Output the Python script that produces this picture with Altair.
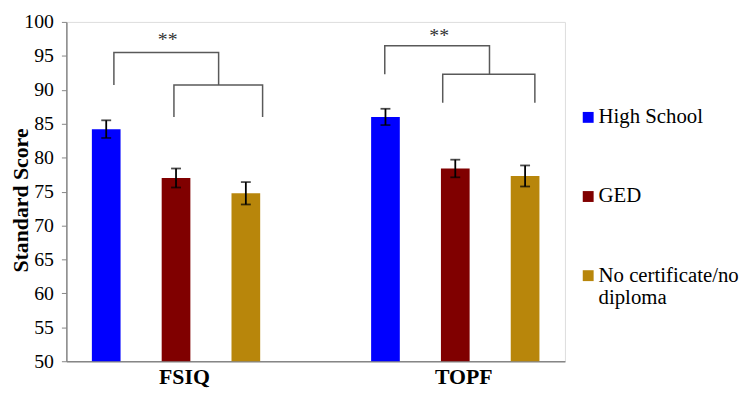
import altair as alt
import pandas as pd

# ---- data ----
groups = ["FSIQ", "TOPF"]
levels = ["High School", "GED", "No certificate/no diploma"]
colors = ["#0000ff", "#800000", "#b8860b"]

fsiq_mean = [84.2, 77.0, 74.75]
fsiq_err = [1.3, 1.4, 1.65]
topf_mean = [86.0, 78.4, 77.3]
topf_err = [1.2, 1.3, 1.55]

# significance brackets (x in category slots, y in score units)
br_hs_x = [0.61, 4.49]
br_junction_x = [2.11, 5.99]
br_lower_left_x = [1.47, 5.32]
br_lower_right_x = [2.74, 6.64]
br_top_y = [95.5, 96.5]
br_mid_y = [90.7, 92.3]
br_leg_y = [86.0, 88.1]
star_x = [1.38, 5.27]
star_y = [97.3, 97.9]
star_text = ["**", "**"]

y_ticks = list(range(50, 101, 5))
wrapped = {"No certificate/no diploma": ["No certificate/no", "diploma"]}

FONT = "Liberation Serif"

# ---- tables ----
rows = []
for gi, (g, means, errs) in enumerate(zip(groups, [fsiq_mean, topf_mean], [fsiq_err, topf_err])):
    for li, lev in enumerate(levels):
        rows.append({
            "group": g, "level": lev, "pos": gi * 4 + li + 0.5,
            "mean": means[li], "lo": means[li] - errs[li], "hi": means[li] + errs[li],
        })
bars_df = pd.DataFrame(rows)

br_rows = []
for gi in range(len(groups)):
    up = [(br_hs_x[gi], br_mid_y[gi]), (br_hs_x[gi], br_top_y[gi]),
          (br_junction_x[gi], br_top_y[gi]), (br_junction_x[gi], br_mid_y[gi])]
    low = [(br_lower_left_x[gi], br_leg_y[gi]), (br_lower_left_x[gi], br_mid_y[gi]),
           (br_lower_right_x[gi], br_mid_y[gi]), (br_lower_right_x[gi], br_leg_y[gi])]
    for name, pts in (("u", up), ("l", low)):
        for k, (x, y) in enumerate(pts):
            br_rows.append({"id": f"{gi}{name}", "k": k, "x": x, "y": y})
br_df = pd.DataFrame(br_rows)
star_df = pd.DataFrame({"x": star_x, "y": star_y, "t": star_text})

x_scale = alt.Scale(domain=[0, 7], nice=False, zero=False)
y_scale = alt.Scale(domain=[50, 100], nice=False, zero=False)

group_arr = "[" + ",".join(f"'{g}'" for g in groups) + "]"
x_axis = alt.Axis(
    values=[gi * 4 + 1.5 for gi in range(len(groups))],
    labelExpr=f"{group_arr}[floor(datum.value/4)]",
    ticks=False, grid=False, domainColor="#868686", domainWidth=1.5,
    labelFont=FONT, labelFontSize=22, labelFontWeight="bold", labelColor="black",
    labelBaseline="alphabetic", labelPadding=23, labelOffset=8, title=None,
)
y_axis = alt.Axis(
    values=y_ticks, grid=False, tickSize=5, tickColor="#868686", domainColor="#868686",
    domainWidth=1.5, labelFont=FONT, labelFontSize=20, labelColor="black", labelPadding=8,
    title="Standard Score", titleFont=FONT, titleFontSize=22, titleFontWeight="bold",
    titleColor="black", titleAngle=-90, titleX=-46, titleY=180, titleAlign="center",
    titleBaseline="middle",
)


def X(field):
    return alt.X(field, type="quantitative", scale=x_scale, axis=x_axis)


def Y(field):
    return alt.Y(field, type="quantitative", scale=y_scale, axis=y_axis)


label_expr = " : ".join(
    f"datum.label == '{k}' ? {list(v)}" for k, v in wrapped.items()
) + " : datum.label"

bars = alt.Chart(bars_df).mark_bar(size=29).encode(
    x=X("pos"),
    y=Y("mean"),
    y2=alt.datum(50),
    color=alt.Color(
        "level:N",
        scale=alt.Scale(domain=levels, range=colors),
        sort=levels,
        legend=alt.Legend(
            title=None, orient="none", legendX=517, legendY=86,
            symbolType="square", symbolSize=121, symbolStrokeWidth=0,
            labelFont=FONT, labelFontSize=21, labelColor="black", labelOffset=0,
            rowPadding=58, labelExpr=label_expr, labelLimit=300, padding=0,
        ),
    ),
)

err = alt.Chart(bars_df).mark_rule(color="black", strokeWidth=1.8).encode(
    x=X("pos"), y=Y("lo"), y2="hi:Q"
)
cap_lo = alt.Chart(bars_df).mark_tick(color="black", thickness=1.8, size=10, orient="horizontal").encode(
    x=X("pos"), y=Y("lo")
)
cap_hi = alt.Chart(bars_df).mark_tick(color="black", thickness=1.8, size=10, orient="horizontal").encode(
    x=X("pos"), y=Y("hi")
)
brackets = alt.Chart(br_df).mark_line(color="#595959", strokeWidth=1.5).encode(
    x=X("x"), y=Y("y"), detail="id:N", order="k:Q"
)
stars = alt.Chart(star_df).mark_text(
    font=FONT, fontSize=20, color="#333333", baseline="middle", align="center"
).encode(x=X("x"), y=Y("y"), text="t:N")

chart = alt.layer(bars, err, cap_lo, cap_hi, brackets, stars).properties(
    width=504, height=343,
    autosize=alt.AutoSizeParams(type="none"),
    padding={"left": 59, "top": 12, "right": 181, "bottom": 26},
).configure_view(stroke=None).configure(background="white", font=FONT)

chart.save("out.html", embed_options={"renderer": "svg", "actions": False})
